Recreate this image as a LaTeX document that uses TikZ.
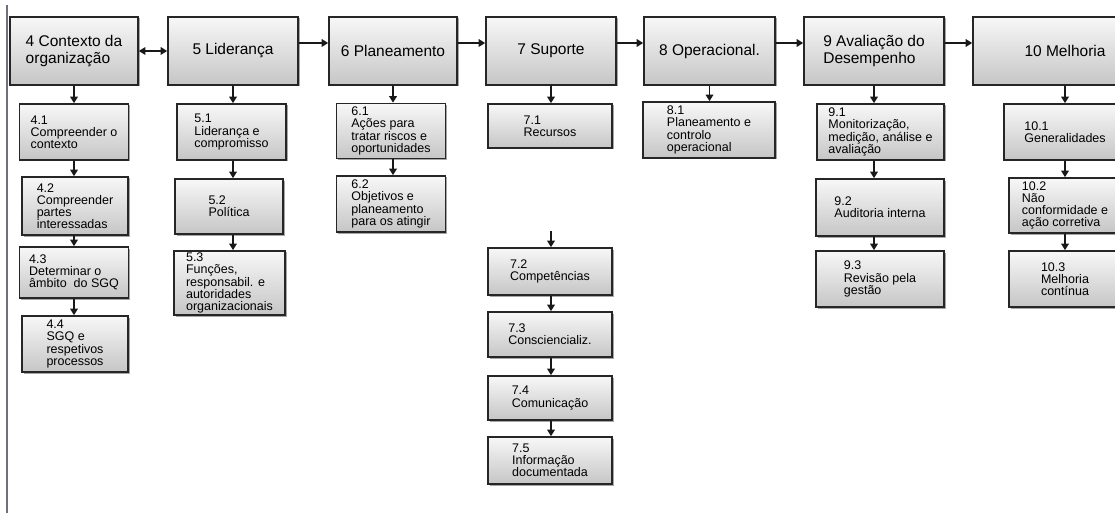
\documentclass[tikz,border=0pt]{standalone}
\usepackage{fontspec}
\setmainfont{Liberation Sans}
\usepackage{tikz}
\usetikzlibrary{arrows.meta,shadows,positioning}
\definecolor{pageline}{RGB}{112,112,124}

\begin{document}
\begin{tikzpicture}[x=1pt,y=-1pt,
    box/.style={draw=black!85,line width=1.6pt,top color=gray!6,bottom color=gray!45,
        drop shadow={shadow xshift=1.5pt,shadow yshift=-1.5pt,opacity=.35,fill=black},
        align=left,inner sep=2pt,text=black},
    head/.style={box,minimum height=68pt,font=\fontsize{15.5}{17}\selectfont},
    sub/.style={box,font=\fontsize{12.5}{12.2}\selectfont},
    tip/.tip={Triangle[width=7.5pt,length=6.5pt]},
    link/.style={-tip,line width=1.7pt,black!90}]
    \useasboundingbox (0,0) rectangle (1115,513);
    \clip (0,0) rectangle (1115,513);
    \draw[line width=1.4pt,pageline] (7,5) -- (7,513);

    \node[head,minimum width=128pt] (c4) at (74,51) {4 Contexto da\\organização};
    \node[head,minimum width=130pt] (c5) at (233,51) {5 Liderança};
    \node[head,minimum width=128pt] (c6) at (393,51) {6 Planeamento};
    \node[head,minimum width=130pt] (c7) at (551,51) {7 Suporte};
    \node[head,minimum width=131pt] (c8) at (709.5,51) {8 Operacional.};
    \node[head,minimum width=140pt] (c9) at (874,51) {9 Avaliação do\\Desempenho};
    \node[head,minimum width=184pt] (c10) at (1065,51) {10 Melhoria};

    \node[sub,minimum width=109pt,minimum height=56pt] (p41) at (74,132) {4.1\\Compreender o\\contexto};
    \node[sub,minimum width=106pt,minimum height=58pt] (p42) at (75,206) {4.2\\Compreender\\partes\\interessadas};
    \node[sub,minimum width=109pt,minimum height=51pt] (p43) at (74,272.5) {4.3\\Determinar o\\âmbito\ \ do SGQ};
    \node[sub,minimum width=106pt,minimum height=56pt] (p44) at (75,344) {4.4\\SGQ e\\respetivos\\processos};

    \node[sub,minimum width=109pt,minimum height=56pt] (p51) at (231.5,132) {5.1\\Liderança e\\compromisso};
    \node[sub,minimum width=108pt,minimum height=55pt] (p52) at (229,206.5) {5.2\\Política};
    \node[sub,minimum width=111pt,minimum height=64pt] (p53) at (229.5,283) {5.3\\Funções,\\responsabil. e\\autoridades\\organizacionais};

    \node[sub,minimum width=109pt,minimum height=55pt] (p61) at (391,131) {6.1\\Ações para\\tratar riscos e\\oportunidades};
    \node[sub,minimum width=109pt,minimum height=56pt] (p62) at (391,204) {6.2\\Objetivos e\\planeamento\\para os atingir};

    \node[sub,minimum width=124pt,minimum height=44pt] (p71) at (550,126) {7.1\\Recursos};
    \node[sub,minimum width=124pt,minimum height=47pt] (p72) at (550,271.5) {7.2\\Competências};
    \node[sub,minimum width=124pt,minimum height=45pt] (p73) at (550,334.5) {7.3\\Consciencializ.};
    \node[sub,minimum width=124pt,minimum height=44pt] (p74) at (550,398) {7.4\\Comunicação};
    \node[sub,minimum width=124pt,minimum height=47pt] (p75) at (550,460.5) {7.5\\Informação\\documentada};
    \coordinate (in72) at (551,231);

    \node[sub,minimum width=132pt,minimum height=56pt] (p81) at (709,130) {8.1\\Planeamento e\\controlo\\operacional};

    \node[sub,minimum width=127pt,minimum height=56pt] (p91) at (880.5,132) {9.1\\Monitorização,\\medição, análise e\\avaliação};
    \node[sub,minimum width=128pt,minimum height=57pt] (p92) at (880,207.5) {9.2\\Auditoria interna};
    \node[sub,minimum width=128pt,minimum height=56pt] (p93) at (880,279) {9.3\\Revisão pela\\gestão};

    \node[sub,minimum width=122pt,minimum height=56pt] (p101) at (1065,132) {10.1\\Generalidades};
    \node[sub,minimum width=112pt,minimum height=55pt] (p102) at (1065,205.5) {10.2\\Não\\conformidade e\\ação corretiva};
    \node[sub,minimum width=112pt,minimum height=56pt] (p103) at (1065,279) {10.3\\Melhoria\\contínua};

    \draw[link,tip-tip] (c4.east) -- (c5.west);
    \foreach \a/\b in {c5/c6,c6/c7,c7/c8,c8/c9,c9/c10}
        \draw[link] ([yshift=8pt]\a.east) -- ([yshift=8pt]\b.west);
    \foreach \a/\b/\c in {c4/p41/c4,p41/p42/c4,p42/p43/c4,p43/p44/c4,
        c5/p51/c5,p51/p52/c5,p52/p53/c5,c6/p61/c6,p61/p62/c6,
        c7/p71/c7,in72/p72/c7,p72/p73/c7,p73/p74/c7,p74/p75/c7,c8/p81/c8,
        c9/p91/c9,p91/p92/c9,p92/p93/c9,c10/p101/c10,p101/p102/c10,p102/p103/c10}
        \draw[link] (\a.south -| \c) -- (\b.north -| \c);
\end{tikzpicture}
\end{document}
